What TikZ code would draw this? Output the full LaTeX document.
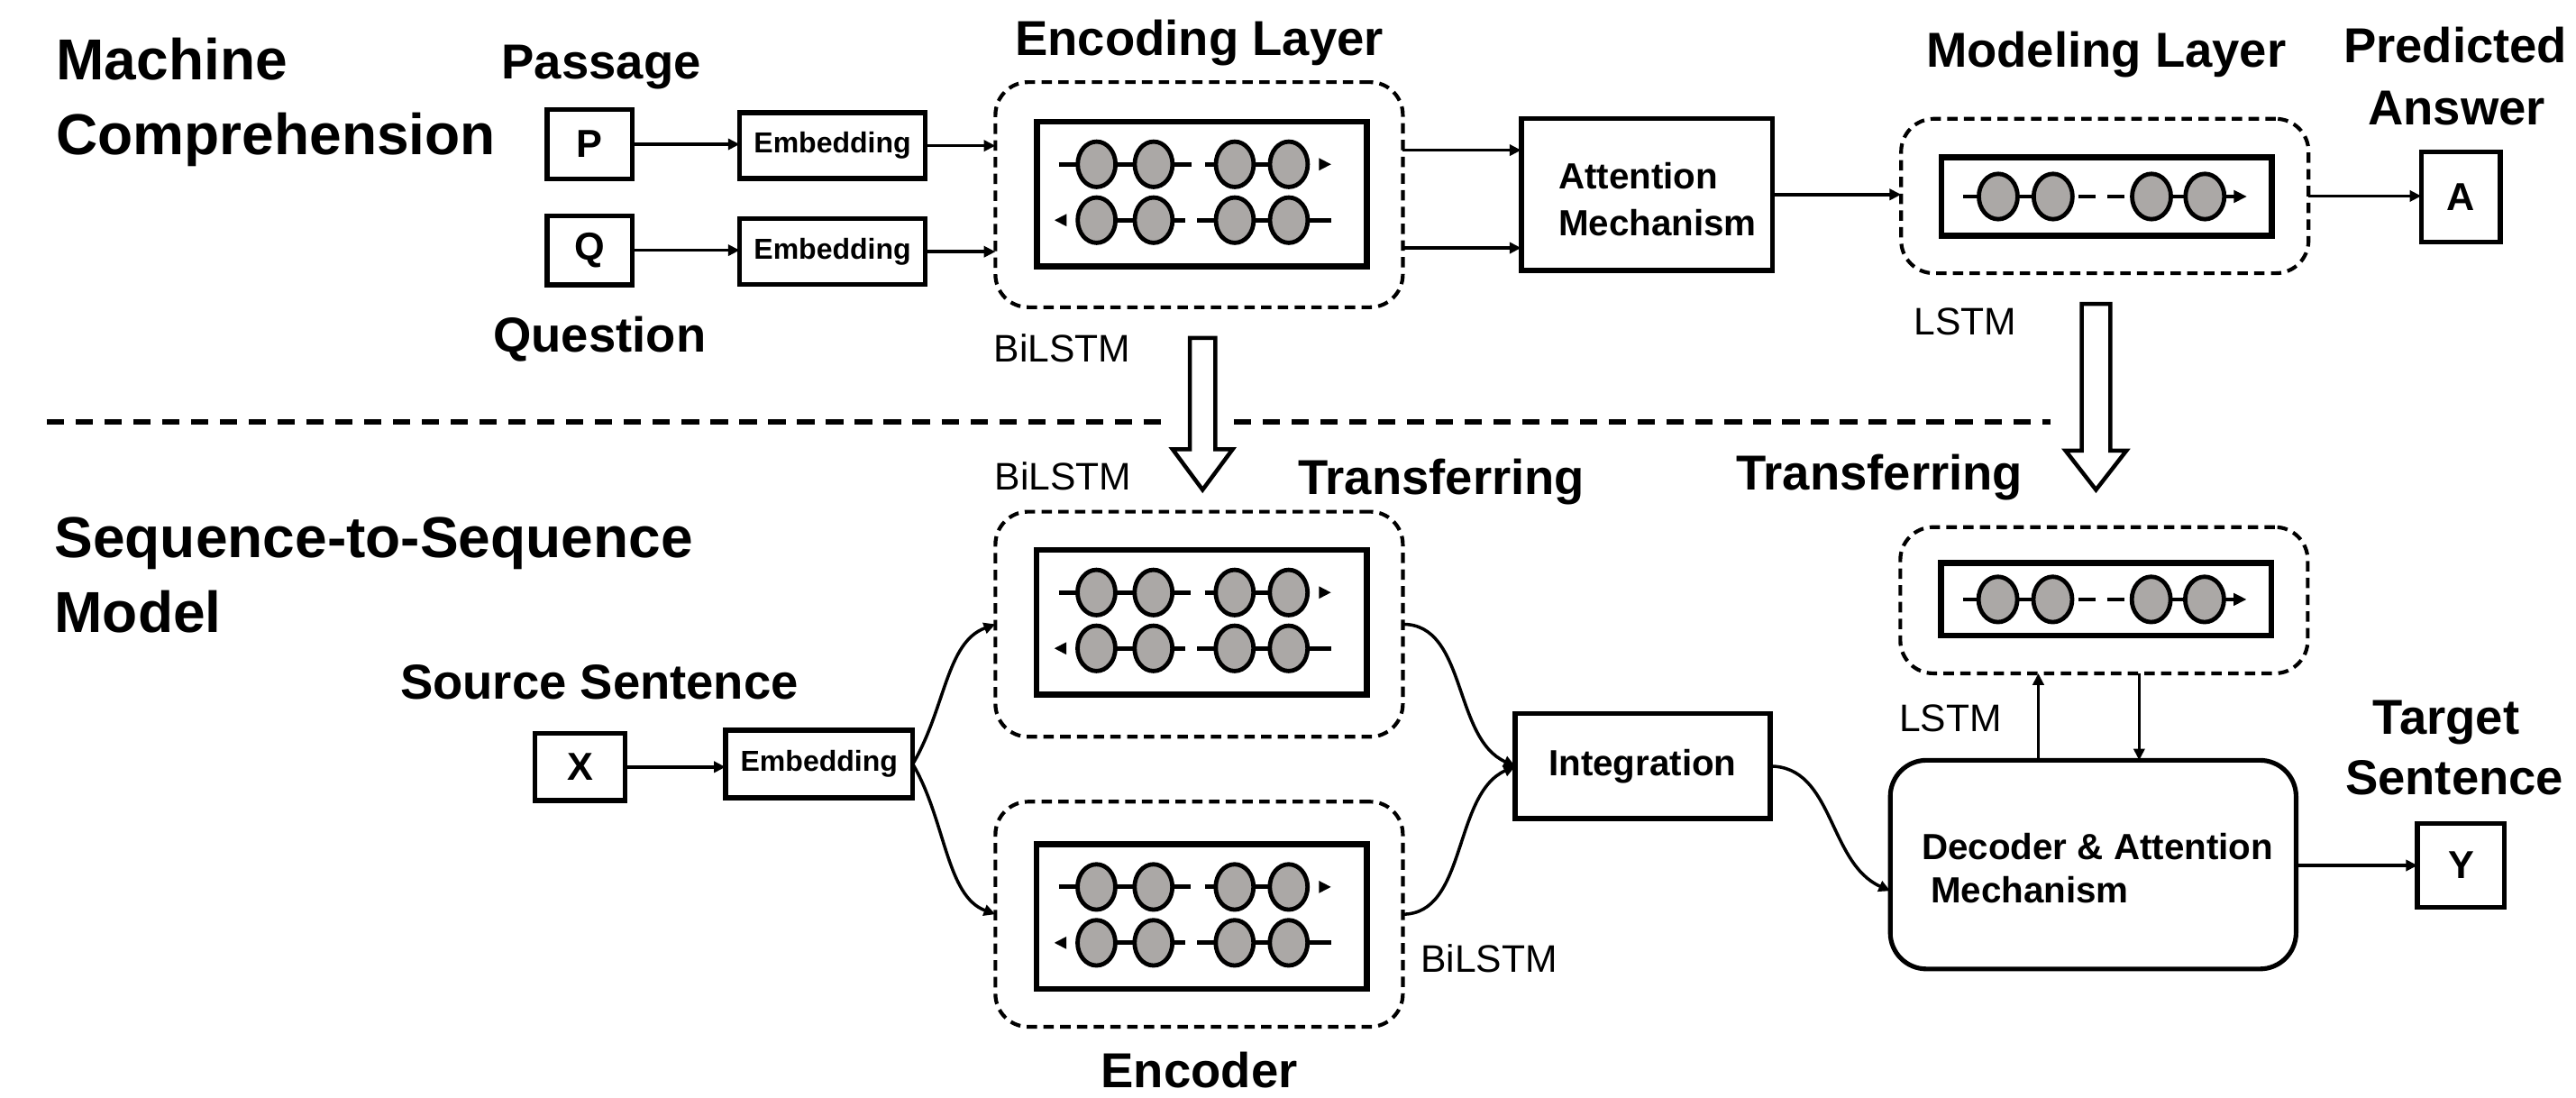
\documentclass[tikz,border=0pt]{standalone}
\usepackage{fontspec}
\setmainfont{Liberation Sans}
\usetikzlibrary{calc,arrows.meta}
\newcommand\pu{*0.02cm}
\definecolor{cellgray}{RGB}{171,168,166}

\tikzset{
  every node/.style={inner sep=0pt, outer sep=0pt},
  title/.style={font=\fontsize{20}{24}\selectfont\bfseries, anchor=base west},
  lab/.style={font=\fontsize{17}{20}\selectfont\bfseries, anchor=base},
  tag/.style={font=\fontsize{13.3}{16}\selectfont, anchor=base west},
  boxtext/.style={font=\fontsize{12.6}{15}\selectfont\bfseries, anchor=base west},
  sqbox/.style={draw, line width=1.7pt, minimum width=52\pu, minimum height=42\pu,
    font=\fontsize{13.5}{16}\selectfont\bfseries},
  embbox/.style={draw, line width=1.7pt, minimum width=113\pu, minimum height=40\pu,
    font=\fontsize{10}{12}\selectfont\bfseries},
  blockbox/.style={draw, line width=1.8pt, font=\fontsize{12.6}{15}\selectfont\bfseries},
  decbox/.style={draw, line width=1.6pt, rounded corners=22\pu,
    minimum width=247\pu, minimum height=127\pu},
  group/.style={draw, dash pattern=on 3.6pt off 2.2pt, line width=1.3pt,
    rounded corners=20\pu, minimum width=248\pu, minimum height=137\pu},
  cell/.style={draw, line width=2.1pt, minimum width=201\pu, minimum height=88\pu},
  neuron/.style={draw, line width=1.5pt, fill=cellgray},
  link/.style={line width=1.5pt},
  arr/.style={-{Triangle[length=4pt,width=3.8pt]}, line width=1.1pt},
  divider/.style={dash pattern=on 6pt off 4pt, line width=1.8pt},
  hollow/.style={draw, fill=white, line width=1.4pt, line join=miter},
  % bidirectional LSTM: forward row on top, backward row below
  bilstm/.pic={
    \draw[link] (-87,-18) -- (-6.4,-18) (1.9,-18) -- (53,-18);
    \draw[link] (-64,16) -- (-10,16) (-2.7,16) -- (78.7,16);
    \fill (78.7,-18) -- (71.4,-21.8) -- (71.4,-14.2) -- cycle;
    \fill (-89.6,16) -- (-82.3,12.2) -- (-82.3,19.8) -- cycle;
    \foreach \cx in {-64,-29.3,20.1,53} {
      \draw[neuron] (\cx,-18) ellipse [x radius=11.5, y radius=13.8];
      \draw[neuron] (\cx,16) ellipse [x radius=11.5, y radius=13.8];
    }
  },
  % single-direction LSTM chain
  lstmrow/.pic={
    \draw[link] (-87.2,0) -- (-32.5,0);
    \draw[link] (-17,0) -- (-6.5,0) (0.5,0) -- (11,0);
    \draw[link] (27.4,0) -- (78,0);
    \fill (85.3,0) -- (77.5,-4) -- (77.5,4) -- cycle;
    \foreach \cx in {-65.9,-32.5,27.4,59.9} {
      \draw[neuron] (\cx,0) ellipse [x radius=11.8, y radius=13.8];
    }
  }
}

\begin{document}
\begin{tikzpicture}[x=0.02cm, y=-0.02cm]
\useasboundingbox (0,0) rectangle (1568,668);

% ---------------- machine comprehension ----------------
\node[title] (mc1) at (34.3,48.5) {Machine};
\node[title] (mc2) at (34.3,94.2) {Comprehension};

\node[lab] (pas) at (366,47.9) {Passage};
\node[sqbox] (P) at (359,87.8) {P};
\node[sqbox] (Q) at (359,152.3) {Q};
\node[lab] (que) at (365,214) {Question};

\node[embbox] (e1) at (506.7,88.7) {Embedding};
\node[embbox] (e2) at (506.7,153.2) {Embedding};

\node[lab] (enl) at (730,34) {Encoding Layer};
\node[group] (enc) at (729.9,118.5) {};
\node[cell] (encc) at (731.5,118) {};
\pic at (encc.center) {bilstm};
\node[tag] (bl1) at (605,220.4) {BiLSTM};

\node[blockbox, minimum width=153\pu, minimum height=92.4\pu] (att) at (1002.4,118.4) {};
\node[boxtext] (at1) at ($(att.center)+(-53.8,-3.2)$) {Attention};
\node[boxtext] (at2) at ($(att.center)+(-53.8,25.2)$) {Mechanism};

\node[lab] (mll) at (1282,41) {Modeling Layer};
\node[group, minimum height=94\pu] (mod) at (1281.2,119.3) {};
\node[cell, minimum height=48\pu] (modc) at (1282.2,119.6) {};
\pic at (modc.center) {lstmrow};
\node[tag] (ls1) at (1165,203.9) {LSTM};

\node[lab] (pa1) at (1494.5,38.4) {Predicted};
\node[lab] (pa2) at (1495.4,75.9) {Answer};
\node[sqbox, minimum width=48\pu, minimum height=55\pu] (A) at (1497.8,119.8) {A};

\draw[arr] (P.east) -- (P.east -| e1.west);
\draw[arr] (Q.east) -- (Q.east -| e2.west);
\draw[arr] (e1.east) -- (e1.east -| enc.west);
\draw[arr] (e2.east) -- (e2.east -| enc.west);
\draw[arr] ($(enc.east)+(0,-27.1)$) -- ($(att.west)+(0,-27)$);
\draw[arr] ($(enc.east)+(0,32.4)$) -- ($(att.west)+(0,32.5)$);
\draw[arr] (att.east) -- (att.east -| mod.west);
\draw[arr] (mod.east) -- (mod.east -| A.west);

% ---------------- separator and transfer arrows ----------------
\draw[divider] (28.4,256.6) -- (712,256.6) (751,256.6) -- (1248,256.6);

\draw[hollow] (724.3,205.7) -- (739.7,205.7) -- (739.7,273.4) -- (750.3,273.4)
  -- (732,298.1) -- (713.7,273.4) -- (724.3,273.4) -- cycle;
\draw[hollow] (1267.1,185) -- (1284.5,185) -- (1284.5,274.3) -- (1294.3,274.3)
  -- (1275.8,298.1) -- (1257.3,274.3) -- (1267.1,274.3) -- cycle;

\node[lab] (tr1) at (877.4,300.8) {Transferring};
\node[lab] (tr2) at (1144,298.1) {Transferring};
\node[tag] (bl2) at (605.5,298) {BiLSTM};

% ---------------- sequence-to-sequence model ----------------
\node[title] (ss1) at (33.2,339.2) {Sequence-to-Sequence};
\node[title] (ss2) at (33.2,385) {Model};

\node[lab] (src) at (364.8,425.2) {Source Sentence};
\node[sqbox, minimum width=55\pu, minimum height=41\pu] (X) at (353,466.8) {X};
\node[embbox, minimum width=114\pu, minimum height=41\pu] (e3) at (498.6,465) {Embedding};

\node[group] (up) at (729.9,379.9) {};
\node[cell] (upc) at (731.4,378.6) {};
\pic at (upc.center) {bilstm};

\node[group] (lo) at (729.9,556.4) {};
\node[cell] (loc) at (731.4,557.8) {};
\pic at (loc.center) {bilstm};
\node[lab] (encl) at (730,662) {Encoder};
\node[tag] (bl3) at (864.8,591.6) {BiLSTM};

\node[blockbox, minimum width=155\pu, minimum height=64\pu] (int) at (999.8,466.3) {Integration};

\node[group, minimum height=89\pu] (lst) at (1280.7,365.3) {};
\node[cell, minimum height=44\pu] (lstc) at (1282,364.8) {};
\pic at (lstc.center) {lstmrow};
\node[tag] (ls2) at (1156.1,445.3) {LSTM};

\node[decbox] (dec) at (1274.1,526.2) {};
\node[boxtext] (dt1) at ($(dec.center)+(-104.4,-3.2)$) {Decoder \& Attention};
\node[boxtext] (dt2) at ($(dec.center)+(-98.9,23.3)$) {Mechanism};

\node[lab] (ts1) at (1489,447.1) {Target};
\node[lab] (ts2) at (1494,483.7) {Sentence};
\node[sqbox, minimum width=53\pu, minimum height=51\pu] (Y) at (1498,526.7) {Y};

\draw[arr] (X.east) -- (X.east -| e3.west);
\draw[arr] (e3.east) .. controls +(20,-34) and +(-30,11) .. (up.west);
\draw[arr] (e3.east) .. controls +(20,34) and +(-30,-11) .. (lo.west);
\draw[arr] (up.east) .. controls +(39,0) and +(-38,-17) .. (int.west);
\draw[arr] (lo.east) .. controls +(39,0) and +(-38,17) .. (int.west);
\draw[arr] (int.east) .. controls +(39,0) and +(-38,-17) .. ($(dec.west)+(0,16)$);

\coordinate (u1) at ($(dec.north)+(-33.4,0)$);
\coordinate (d1) at ($(dec.north)+(28,0)$);
\draw[arr] (u1) -- (u1 |- lst.south);
\draw[arr] (d1 |- lst.south) -- (d1);
\draw[arr] (dec.east |- Y.west) -- (Y.west);
\end{tikzpicture}
\end{document}
